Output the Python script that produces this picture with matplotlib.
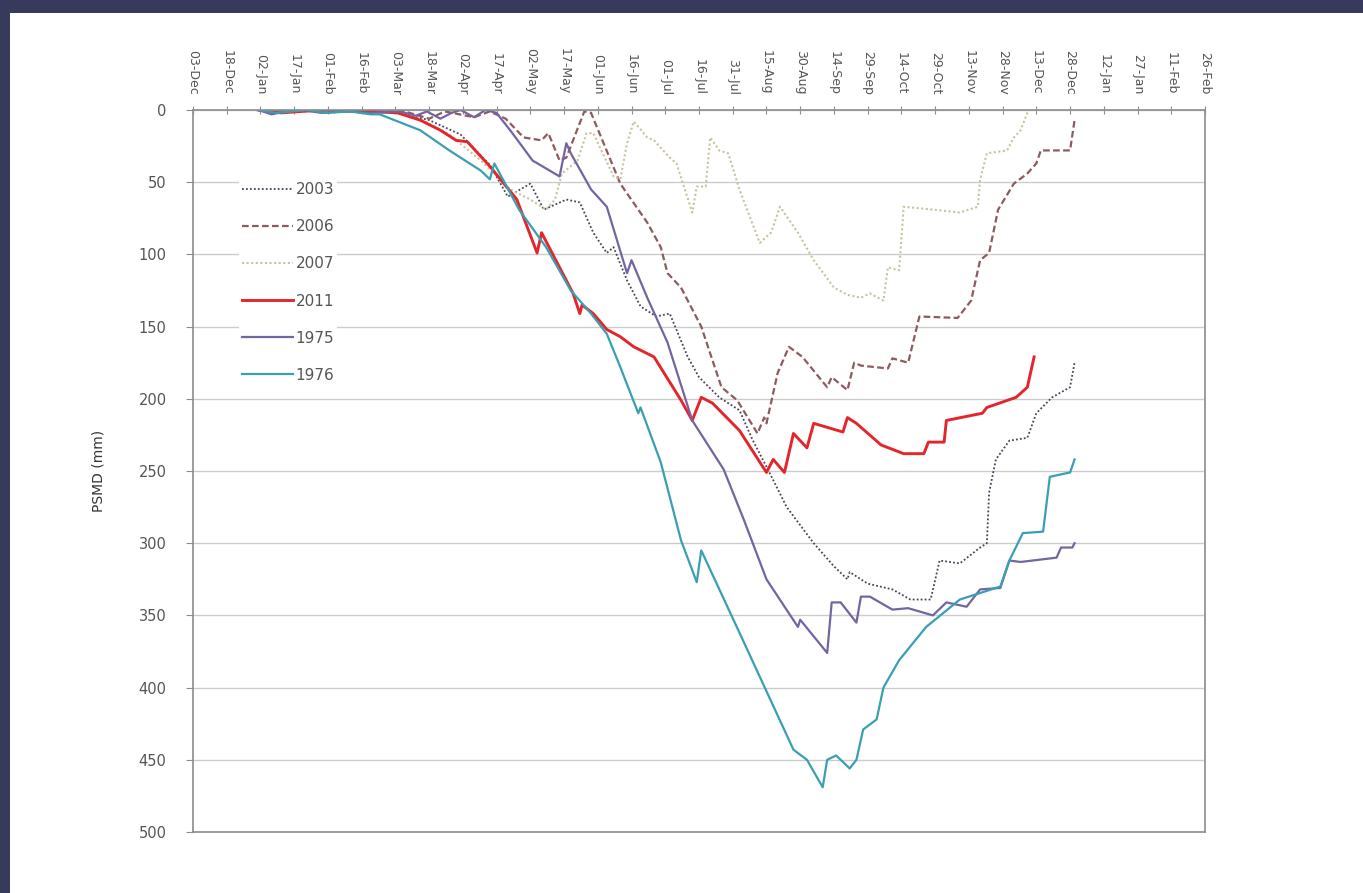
import matplotlib
matplotlib.use("Agg")
import matplotlib.pyplot as plt
from matplotlib.patches import Rectangle

# day of year (1 Jan = 0), PSMD in mm
day_2003 = [0, 10, 20, 30, 41, 50, 63, 76, 90, 103, 111, 121, 127, 137, 143, 149, 155, 158,
            164, 170, 177, 183, 191, 196, 205, 214, 220, 226, 235, 247, 256, 262, 263, 271,
            282, 290, 299, 303, 312, 321, 324, 325, 328, 334, 342, 346, 353, 361, 363]
psmd_2003 = [0, 1, 0, 2, 1, 1, 2, 7, 17, 38, 60, 51, 69, 62, 64, 85, 99, 95,
             118, 136, 143, 141, 171, 185, 199, 208, 229, 247, 275, 300, 316, 325, 320, 328,
             332, 339, 339, 312, 314, 303, 300, 265, 242, 229, 227, 210, 199, 192, 175]

day_2006 = [0, 10, 20, 30, 41, 50, 63, 76, 83, 96, 103, 110, 118, 126, 129, 134, 137, 145,
            148, 161, 173, 179, 182, 188, 197, 206, 213, 222, 225, 226, 231, 236, 242, 253,
            255, 262, 265, 268, 280, 282, 289, 294, 311, 317, 321, 325, 329, 336, 342, 346,
            348, 361, 363]
psmd_2006 = [0, 1, 0, 1, 1, 2, 0, 6, 1, 5, 1, 6, 19, 21, 16, 35, 33, 1,
             2, 51, 78, 95, 113, 123, 150, 192, 201, 224, 213, 217, 182, 164, 171, 192,
             185, 194, 175, 177, 179, 172, 175, 143, 144, 132, 104, 99, 69, 51, 44, 37,
             28, 28, 7]

day_2007 = [0, 10, 20, 30, 41, 50, 63, 72, 85, 99, 112, 121, 128, 132, 135, 142, 146, 149,
            158, 161, 164, 167, 173, 176, 183, 186, 193, 195, 199, 201, 205, 209, 214, 223,
            228, 232, 240, 247, 256, 262, 268, 272, 278, 280, 285, 287, 300, 312, 320, 321,
            324, 333, 336, 339, 342, 343]
psmd_2007 = [0, 2, 1, 0, 1, 2, 1, 6, 17, 35, 55, 62, 69, 62, 44, 35, 16, 16,
             46, 48, 23, 8, 19, 21, 33, 37, 71, 53, 53, 19, 28, 30, 55, 92,
             85, 67, 85, 104, 123, 128, 130, 127, 132, 109, 111, 67, 69, 71, 67, 48,
             30, 28, 19, 14, 2, 0]

day_2011 = [0, 10, 19, 30, 41, 50, 62, 72, 81, 88, 93, 103, 115, 124, 126, 140, 143, 144,
            149, 155, 161, 167, 176, 188, 193, 197, 202, 214, 226, 229, 234, 238, 244, 247,
            260, 262, 266, 277, 287, 296, 298, 305, 306, 322, 324, 337, 342, 345]
psmd_2011 = [0, 2, 1, 0, 0, 1, 2, 7, 14, 21, 22, 39, 62, 99, 85, 127, 141, 135,
             141, 152, 157, 164, 171, 201, 215, 199, 203, 222, 251, 242, 251, 224, 234, 217,
             223, 213, 217, 232, 238, 238, 230, 230, 215, 210, 206, 199, 192, 171]

day_1975 = [0, 6, 12, 20, 28, 35, 41, 50, 63, 70, 75, 81, 86, 90, 96, 101, 106, 113, 122,
            134, 137, 139, 148, 155, 164, 166, 173, 182, 193, 207, 216, 226, 240, 241, 253,
            255, 259, 266, 268, 272, 282, 289, 300, 306, 315, 321, 330, 334, 339, 355, 357,
            362, 363]
psmd_1975 = [0, 3, 1, 0, 2, 1, 1, 2, 1, 4, 1, 6, 2, 0, 5, 0, 2, 16, 35,
             46, 23, 30, 55, 67, 113, 104, 130, 161, 215, 249, 284, 325, 358, 353, 376,
             341, 341, 355, 337, 337, 346, 345, 350, 341, 344, 332, 331, 312, 313, 310, 303,
             303, 300]

day_1976 = [0, 8, 15, 22, 30, 41, 50, 54, 72, 85, 99, 103, 105, 116, 128, 139, 148, 155,
            161, 166, 169, 170, 179, 188, 195, 197, 214, 238, 244, 251, 253, 257, 263, 266, 269,
            275, 278, 285, 297, 312, 330, 334, 340, 349, 352, 361, 363]
psmd_1976 = [0, 2, 1, 0, 2, 1, 3, 3, 14, 28, 42, 48, 37, 69, 95, 125, 141, 155,
             178, 198, 210, 206, 244, 298, 327, 305, 362, 443, 450, 469, 450, 447, 456, 450, 429,
             422, 400, 381, 358, 339, 330, 312, 293, 292, 254, 251, 242]

tick_days = list(range(-29, 422, 15))
tick_labels = ["03-Dec", "18-Dec", "02-Jan", "17-Jan", "01-Feb", "16-Feb", "03-Mar",
               "18-Mar", "02-Apr", "17-Apr", "02-May", "17-May", "01-Jun", "16-Jun",
               "01-Jul", "16-Jul", "31-Jul", "15-Aug", "30-Aug", "14-Sep", "29-Sep",
               "14-Oct", "29-Oct", "13-Nov", "28-Nov", "13-Dec", "28-Dec", "12-Jan",
               "27-Jan", "11-Feb", "26-Feb"]

TEXT = "#555555"
GRID = "#cccccc"
AXIS = "#8c8c8c"
SLIDE = "#383a5c"

fig = plt.figure(figsize=(13.63, 8.93), dpi=100)
fig.patch.set_facecolor("white")
# dark slide strips along the top and left edges
fig.patches.append(Rectangle((0, 1 - 13 / 893), 1, 13 / 893, transform=fig.transFigure,
                             facecolor=SLIDE, edgecolor="none"))
fig.patches.append(Rectangle((0, 0), 10 / 1363, 1, transform=fig.transFigure,
                             facecolor=SLIDE, edgecolor="none"))

ax = fig.add_axes([193 / 1363, 61 / 893, 1012 / 1363, 722 / 893])
ax.set_facecolor("white")

ax.plot(day_2003, psmd_2003, color="#45455a", lw=1.3, ls=(0, (1, 1.2)), label="2003")
ax.plot(day_2006, psmd_2006, color="#8e5a5e", lw=1.6, ls=(0, (3, 1.5)), label="2006")
ax.plot(day_2007, psmd_2007, color="#c9c29a", lw=1.5, ls=(0, (1, 1.2)), label="2007")
ax.plot(day_2011, psmd_2011, color="#e3262b", lw=2.1, label="2011")
ax.plot(day_1975, psmd_1975, color="#7464a0", lw=1.6, label="1975")
ax.plot(day_1976, psmd_1976, color="#3a9fb2", lw=1.6, label="1976")

ax.set_xlim(-29, 421)
ax.set_ylim(500, 0)
ax.set_yticks(range(0, 501, 50))
ax.yaxis.grid(True, color=GRID, lw=1)
ax.set_axisbelow(True)

ax.xaxis.tick_top()
ax.set_xticks(tick_days)
ax.set_xticklabels(tick_labels, rotation=270, fontsize=9, color=TEXT)
ax.tick_params(axis="x", direction="inout", length=6, color=AXIS, pad=8)
ax.tick_params(axis="y", direction="out", length=5, color=AXIS, labelsize=10.5,
               labelcolor=TEXT, pad=14)
for spine in ax.spines.values():
    spine.set_color(AXIS)
    spine.set_linewidth(1.2)

ax.set_ylabel("PSMD (mm)", fontsize=10, color="#333333", labelpad=24)

leg = ax.legend(loc="upper left", bbox_to_anchor=(0.038, 0.915), frameon=True,
                fontsize=11, handlelength=3.3, handletextpad=0.2, labelspacing=1.45,
                borderpad=0.2)
leg.get_frame().set_facecolor("white")
leg.get_frame().set_edgecolor("none")
leg.get_frame().set_alpha(1)
for t in leg.get_texts():
    t.set_color(TEXT)

fig.savefig("out.png", dpi=100, facecolor=fig.get_facecolor())
